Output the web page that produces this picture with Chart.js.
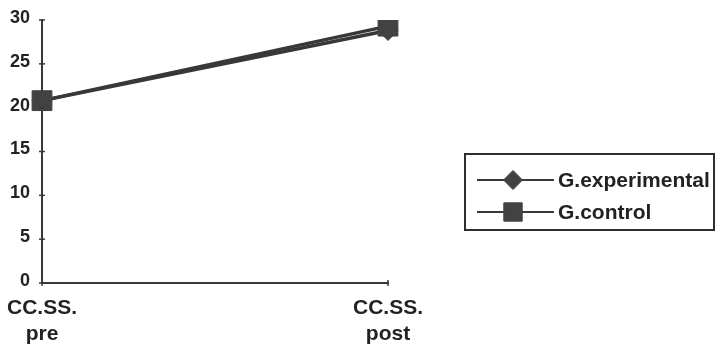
<!DOCTYPE html>
<html>
<head>
<meta charset="utf-8">
<title>CC.SS. pre / post</title>
<script src="https://cdn.jsdelivr.net/npm/chart.js@4/dist/chart.umd.min.js"></script>
<style>
  html, body { margin: 0; padding: 0; background: #fff; }
  #wrap { width: 716px; height: 351px; position: relative; }
</style>
</head>
<body>
<div id="wrap"><canvas id="chart" width="716" height="351"></canvas></div>
<script>
// Test moments (two-line labels)
const categories = [['CC.SS.', 'pre'], ['CC.SS.', 'post']];
// Group means
const experimental = [20.8, 28.8];
const control = [20.8, 29.3];
// Y axis
const yTicks = [0, 5, 10, 15, 20, 25, 30];

const INK = '#383838';
const MARK = '#424242';
const FONT = '"Liberation Sans", Arial, sans-serif';

// Small tick marks crossing the axes
const crossTicks = {
  id: 'crossTicks',
  afterDraw(chart) {
    const { ctx, scales: { x, y } } = chart;
    ctx.save();
    ctx.strokeStyle = INK;
    ctx.lineWidth = 1.5;
    yTicks.forEach(v => {
      const py = y.getPixelForValue(v);
      ctx.beginPath();
      ctx.moveTo(x.left - 3, py);
      ctx.lineTo(x.left + 3, py);
      ctx.stroke();
    });
    categories.forEach((c, i) => {
      const px = x.getPixelForValue(i);
      ctx.beginPath();
      ctx.moveTo(px, y.bottom - 3);
      ctx.lineTo(px, y.bottom + 3);
      ctx.stroke();
    });
    ctx.restore();
  }
};

// Boxed legend with a line running through each marker
const boxedLegend = {
  id: 'boxedLegend',
  afterDraw(chart) {
    const { ctx } = chart;
    const box = { left: 465, top: 154, right: 714, bottom: 230 };
    ctx.save();
    ctx.strokeStyle = '#2e2e2e';
    ctx.lineWidth = 2;
    ctx.strokeRect(box.left, box.top, box.right - box.left, box.bottom - box.top);
    const rows = [180, 212];
    chart.data.datasets.forEach((ds, i) => {
      const cy = rows[i];
      ctx.strokeStyle = ds.borderColor;
      ctx.lineWidth = 2;
      ctx.beginPath();
      ctx.moveTo(477, cy);
      ctx.lineTo(554, cy);
      ctx.stroke();
      ctx.fillStyle = ds.pointBackgroundColor;
      ctx.strokeStyle = ds.pointBorderColor;
      ctx.lineWidth = 1;
      Chart.helpers.drawPoint(ctx, {
        pointStyle: ds.pointStyle,
        radius: ds.pointStyle === 'rect' ? 13 : 9.5,
        borderWidth: 1,
        rotation: 0
      }, 513, cy);
      ctx.fillStyle = '#222';
      ctx.font = 'bold 21px ' + FONT;
      ctx.textBaseline = 'middle';
      ctx.textAlign = 'left';
      ctx.fillText(ds.label, 558, cy + 1);
    });
    ctx.restore();
  }
};

new Chart(document.getElementById('chart'), {
  type: 'line',
  data: {
    labels: categories,
    datasets: [
      {
        label: 'G.experimental',
        data: experimental,
        borderColor: INK,
        borderWidth: 3.5,
        pointStyle: 'rectRot',
        pointRadius: 10,
        pointBackgroundColor: MARK,
        pointBorderColor: MARK,
        pointBorderWidth: 1,
        order: 1
      },
      {
        label: 'G.control',
        data: control,
        borderColor: INK,
        borderWidth: 3.5,
        pointStyle: 'rect',
        pointRadius: 14,
        pointBackgroundColor: MARK,
        pointBorderColor: MARK,
        pointBorderWidth: 1,
        order: 0
      }
    ]
  },
  options: {
    responsive: false,
    animation: false,
    layout: { padding: { top: 20, right: 328, left: 0, bottom: 0 } },
    plugins: {
      legend: { display: false },
      tooltip: { enabled: false }
    },
    scales: {
      x: {
        offset: false,
        grid: { display: false, drawTicks: false },
        border: { display: true, color: INK, width: 2 },
        ticks: {
          color: '#222',
          padding: 12,
          maxRotation: 0,
          font: { family: FONT, size: 21, weight: 'bold', lineHeight: 1.24 }
        },
        afterFit(scale) {
          scale.height = 68;
          scale.paddingLeft = 0;
          scale.paddingRight = 0;
        }
      },
      y: {
        min: 0,
        max: 30,
        afterBuildTicks(scale) { scale.ticks = yTicks.map(v => ({ value: v })); },
        grid: { display: false, drawTicks: false },
        border: { display: true, color: INK, width: 2 },
        ticks: {
          color: '#222',
          padding: 12,
          labelOffset: -2,
          font: { family: FONT, size: 18, weight: 'bold' }
        },
        afterFit(scale) {
          scale.width = 42;
          scale.paddingTop = 0;
          scale.paddingBottom = 0;
        }
      }
    }
  },
  plugins: [crossTicks, boxedLegend]
});
</script>
</body>
</html>
